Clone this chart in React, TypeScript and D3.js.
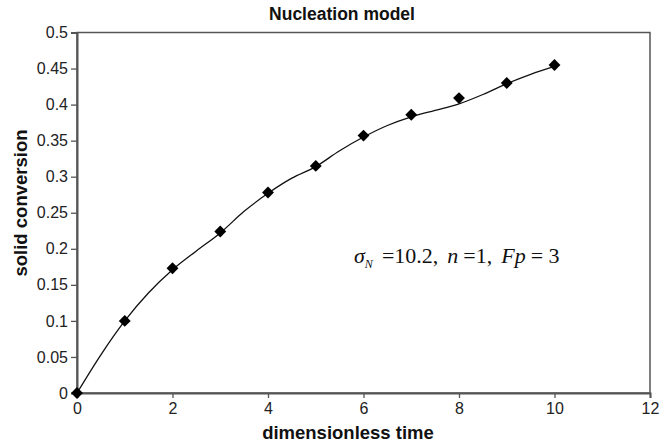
import React, { useEffect, useRef } from 'react';
import * as d3 from 'd3';

// model points (markers)
const markerT = [0, 1, 2, 3, 4, 5, 6, 7, 8, 9, 10];
const markerX = [0, 0.1, 0.173, 0.224, 0.278, 0.315, 0.357, 0.386, 0.409, 0.43, 0.455];

// simulated curve
const curveT = [0, 0.5, 1, 1.5, 2, 2.5, 3, 3.5, 4, 4.5, 5, 5.5, 6, 6.5, 7, 7.5, 8, 8.5, 9, 9.5, 10];
const curveX = [0, 0.053, 0.1, 0.139, 0.171, 0.197, 0.222, 0.252, 0.277, 0.298, 0.314, 0.336, 0.355, 0.371, 0.383, 0.392, 0.401, 0.414, 0.429, 0.442, 0.453];

const xTicks = [0, 2, 4, 6, 8, 10, 12];
const yTicks = [0, 0.05, 0.1, 0.15, 0.2, 0.25, 0.3, 0.35, 0.4, 0.45, 0.5];

const W = 672;
const H = 445;
const m = { top: 32.5, right: 22, bottom: 52, left: 77 };

const App = () => {
  const ref = useRef<SVGSVGElement>(null);

  useEffect(() => {
    const svg = d3.select(ref.current);
    svg.selectAll('*').remove();

    const x = d3.scaleLinear().domain([0, 12]).range([m.left, W - m.right]);
    const y = d3.scaleLinear().domain([0, 0.5]).range([H - m.bottom, m.top]);
    const font = 'Liberation Sans, Arial, sans-serif';

    svg.append('rect').attr('width', W).attr('height', H).attr('fill', '#fff');

    // frame
    svg.append('rect')
      .attr('x', x(0)).attr('y', y(0.5))
      .attr('width', x(12) - x(0)).attr('height', y(0) - y(0.5))
      .attr('fill', 'none').attr('stroke', '#555').attr('stroke-width', 1.5);

    // x axis
    const gx = svg.append('g').attr('transform', `translate(0,${y(0)})`)
      .call(d3.axisBottom(x).tickValues(xTicks).tickSize(5).tickFormat(d3.format('d')));
    // y axis
    const gy = svg.append('g').attr('transform', `translate(${x(0)},0)`)
      .call(d3.axisLeft(y).tickValues(yTicks).tickSize(6).tickFormat((d: any) => String(+d)));

    [gx, gy].forEach(g => {
      g.select('.domain').attr('stroke', '#555').attr('stroke-width', 2);
      g.selectAll('.tick line').attr('stroke', '#555').attr('stroke-width', 1.3);
      g.selectAll('.tick text').attr('font-family', font).attr('font-size', 16).attr('fill', '#222');
    });
    gx.selectAll('.tick text').attr('dy', '0.71em').attr('y', 10);
    gy.selectAll('.tick text').attr('x', -9);

    // curve
    const line = d3.line<number>()
      .x((d, i) => x(curveT[i]))
      .y(d => y(d))
      .curve(d3.curveMonotoneX);
    svg.append('path').datum(curveX)
      .attr('d', line)
      .attr('fill', 'none').attr('stroke', '#111').attr('stroke-width', 1.3);

    // markers
    const diamond = d3.symbol().type(d3.symbolDiamond2).size(90);
    svg.selectAll('.pt').data(markerX).enter().append('path')
      .attr('d', diamond)
      .attr('transform', (d, i) => `translate(${x(markerT[i])},${y(d)})`)
      .attr('fill', '#000');

    // title
    svg.append('text').attr('x', 342).attr('y', 20)
      .attr('text-anchor', 'middle').attr('font-family', font)
      .attr('font-weight', 'bold').attr('font-size', 17.5).attr('fill', '#111')
      .text('Nucleation model');

    // axis labels
    svg.append('text').attr('x', 348).attr('y', 439)
      .attr('text-anchor', 'middle').attr('font-family', font)
      .attr('font-weight', 'bold').attr('font-size', 18.5).attr('fill', '#111')
      .text('dimensionless time');
    svg.append('text')
      .attr('transform', `translate(27,${203}) rotate(-90)`)
      .attr('text-anchor', 'middle').attr('font-family', font)
      .attr('font-weight', 'bold').attr('font-size', 18.5).attr('fill', '#111')
      .text('solid conversion');

    // annotation
    const ann = svg.append('text').attr('x', 354).attr('y', 263)
      .attr('font-family', 'Liberation Serif, Times New Roman, serif')
      .attr('font-size', 22).attr('fill', '#111')
      .attr('xml:space', 'preserve');
    ann.append('tspan').attr('font-style', 'italic').text('σ');
    ann.append('tspan').attr('font-style', 'italic').attr('font-size', 12).attr('dy', 5).text('N');
    ann.append('tspan').attr('dy', -5).attr('dx', 9).text('=10.2,');
    ann.append('tspan').attr('dx', 9).attr('font-style', 'italic').text('n');
    ann.append('tspan').attr('dx', 5).text('=1,');
    ann.append('tspan').attr('dx', 9).attr('font-style', 'italic').text('Fp');
    ann.append('tspan').attr('dx', 5).text('= 3');
  }, []);

  return (
    <svg ref={ref} width={W} height={H} style={{ position: 'absolute', left: 0, top: 0 }} />
  );
};

export default App;
